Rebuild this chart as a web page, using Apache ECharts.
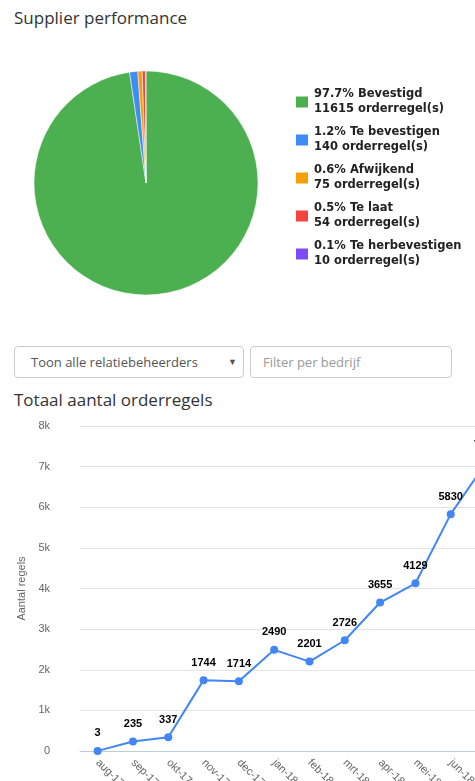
<!DOCTYPE html>
<html>
<head>
<meta charset="utf-8">
<script src="https://cdn.jsdelivr.net/npm/echarts@6/dist/echarts.min.js"></script>
<style>
	html,body{margin:0;padding:0;width:475px;height:781px;overflow:hidden;background:#fff;font-family:"Open Sans",sans-serif;color:#333;}
	h3{position:absolute;margin:0;font-weight:normal;font-size:17px;}
	#pieChart{position:absolute;left:0;top:40px;width:475px;height:290px;}
	#lineChart{position:absolute;left:0;top:410px;width:560px;height:420px;}
	.sel{position:absolute;left:14px;top:346px;width:230px;height:32px;border:1px solid #ccc;border-radius:4px;box-sizing:border-box;font-size:13px;line-height:30px;padding-left:16px;color:#555;}
	.sel span{position:absolute;right:6px;top:0;font-size:9px;}
	.inp{position:absolute;left:250px;top:346px;width:202px;height:32px;border:1px solid #ccc;border-radius:4px;box-sizing:border-box;font-size:13px;line-height:30px;padding-left:12px;color:#999;}
</style>
</head>
<body>
<h3 style="left:14px;top:6px;">Supplier performance</h3>
<div id="pieChart"></div>
<div class="sel">Toon alle relatiebeheerders<span>&#9660;</span></div>
<div class="inp">Filter per bedrijf</div>
<h3 style="left:14px;top:388px;">Totaal aantal orderregels</h3>
<div id="lineChart"></div>
<script>
var statusNames=['Bevestigd','Te bevestigen','Afwijkend','Te laat','Te herbevestigen'];
var statusPct=['97.7%','1.2%','0.6%','0.5%','0.1%'];
var statusCounts=[11615,140,75,54,10];
var statusColors=['#4caf50','#3f8cf4','#f59f0a','#f2453d','#7b4cf5'];

var months=['aug-17','sep-17','okt-17','nov-17','dec-17','jan-18','feb-18','mrt-18','apr-18','mei-18','jun-18','jul-18','aug-18'];
var orderLines=[3,235,337,1744,1714,2490,2201,2726,3655,4129,5830,7094];

/*pie*/
var pieChart=echarts.init(document.getElementById('pieChart'));
var pieData=[];
for(var i=0;i<statusNames.length;i++){
	pieData.push({value:statusCounts[i],name:statusNames[i],itemStyle:{color:statusColors[i]}});
}
pieChart.setOption({
	animation:false,
	legend:{
		orient:'vertical',
		left:289,
		top:42,
		itemWidth:14,
		itemHeight:13,
		itemGap:8,
		icon:'rect',
		textStyle:{color:'#222',fontSize:11.5,fontWeight:'bold',lineHeight:15,fontFamily:'DejaVu Sans'},
		formatter:function(name){
			var k=statusNames.indexOf(name);
			return statusPct[k]+' '+name+'\n'+statusCounts[k]+' orderregel(s)';
		}
	},
	series:[{
		type:'pie',
		center:[146,143],
		radius:[0,112],
		startAngle:90,
		label:{show:false},
		itemStyle:{borderColor:'#fff',borderWidth:0.5},
		data:pieData
	}]
});

/*line*/
var lineChart=echarts.init(document.getElementById('lineChart'));
lineChart.setOption({
	animation:false,
	grid:{left:80,right:21,top:16,height:325},
	xAxis:{
		type:'category',
		data:months,
		axisLine:{lineStyle:{color:'#c0cbd8'}},
		axisTick:{lineStyle:{color:'#c0cbd8'}},
		axisLabel:{rotate:-45,color:'#666',fontSize:11,margin:10}
	},
	yAxis:{
		type:'value',
		min:0,max:8000,interval:1000,
		name:'Aantal regels',
		nameLocation:'middle',
		nameGap:42,
		nameTextStyle:{color:'#666',fontSize:11},
		axisLabel:{color:'#666',fontSize:11,margin:30,formatter:function(v){return v==0?'0':(v/1000)+'k';}},
		splitLine:{lineStyle:{color:'#e3e3e3'}}
	},
	series:[{
		type:'line',
		data:orderLines,
		symbol:'circle',
		symbolSize:8,
		lineStyle:{color:'#4285f4',width:2},
		itemStyle:{color:'#4285f4'},
		label:{show:true,position:'top',distance:8,color:'#000',fontWeight:'bold',fontSize:11}
	}]
});
</script>
</body>
</html>
